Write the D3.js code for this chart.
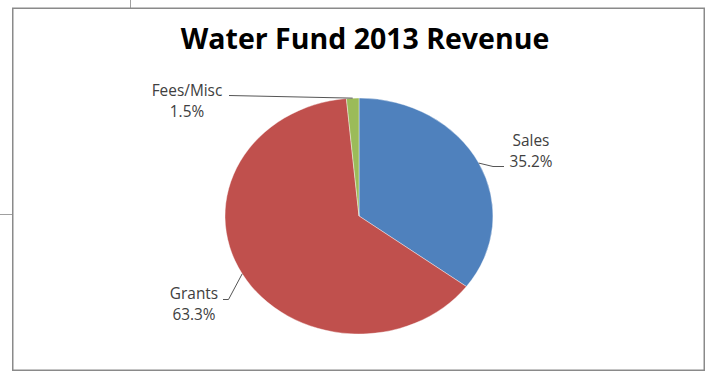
<!DOCTYPE html>
<html>
<head>
<meta charset="utf-8">
<script src="https://cdn.jsdelivr.net/npm/d3@7"></script>
<style>
  html, body { margin: 0; padding: 0; background: #fff; }
  svg { display: block; }
</style>
</head>
<body>
<svg id="chart" width="707" height="373"></svg>
<script>
// Revenue sources, share of total (%)
const categories = ["Sales", "Grants", "Fees/Misc"];
const shares = [35.2, 63.3, 1.5];
const colors = ["#4F81BD", "#C0504D", "#9BBB59"];
const title = "Water Fund 2013 Revenue";

const svg = d3.select("#chart");

// Outer chart frame and stray cell lines around it
svg.append("line").attr("x1", 130.5).attr("x2", 130.5).attr("y1", 0).attr("y2", 8)
  .attr("stroke", "#a0a0a0").attr("stroke-width", 1);
svg.append("line").attr("x1", 0).attr("x2", 12).attr("y1", 214.5).attr("y2", 214.5)
  .attr("stroke", "#a0a0a0").attr("stroke-width", 1);
svg.append("rect")
  .attr("x", 12.75).attr("y", 8.25).attr("width", 691.5).attr("height", 362)
  .attr("fill", "#fff").attr("stroke", "#8a8a8a").attr("stroke-width", 1.5);

// Title
svg.append("text")
  .attr("x", 365).attr("y", 48.5)
  .attr("text-anchor", "middle")
  .attr("font-family", "'Open Sans', 'DejaVu Sans', sans-serif")
  .attr("font-weight", 700)
  .attr("font-size", 28.5)
  .attr("fill", "#000")
  .text(title);

// Pie drawn as a slightly flattened ellipse
const cx = 359, cy = 216, rx = 134, ry = 118;
const pie = d3.pie().sort(null).value(d => d.value);
const arcs = pie(categories.map((c, i) => ({ name: c, value: shares[i], color: colors[i] })));
const arc = d3.arc().innerRadius(0).outerRadius(ry);

const g = svg.append("g")
  .attr("transform", `translate(${cx},${cy}) scale(${rx / ry},1)`);
g.selectAll("path")
  .data(arcs)
  .join("path")
  .attr("d", arc)
  .attr("fill", d => d.data.color)
  .attr("stroke", "#fff")
  .attr("stroke-width", 0.4)
  .attr("vector-effect", "non-scaling-stroke");

// Point on the ellipse rim at a slice's mid angle
function rimPoint(d) {
  const a = (d.startAngle + d.endAngle) / 2;
  return [cx + rx * Math.sin(a), cy - ry * Math.cos(a)];
}

// Label placement: text block centre, baseline of first line, leader elbow points
const labelLayout = {
  "Sales":     { x: 531, y: 146, leader: [[493, 166.5], [504, 166.5]] },
  "Grants":    { x: 194, y: 299, leader: [[228.5, 299.5], [223, 299.5]] },
  "Fees/Misc": { x: 187, y: 96,  leader: [[229, 95.5]] }
};

const fmt = d3.format(".1f");
const labelFont = "'Open Sans', 'DejaVu Sans', sans-serif";
const labelSize = 15.4, lineStep = 21;
const lineGen = d3.line();

arcs.forEach(d => {
  const lay = labelLayout[d.data.name];
  const pts = [rimPoint(d), ...lay.leader];
  svg.append("path")
    .attr("d", lineGen(pts))
    .attr("fill", "none")
    .attr("stroke", "#555")
    .attr("stroke-width", 1);

  [d.data.name, fmt(d.data.value) + "%"].forEach((s, i) => {
    svg.append("text")
      .attr("x", lay.x)
      .attr("y", lay.y + i * lineStep)
      .attr("text-anchor", "middle")
      .attr("font-family", labelFont)
      .attr("font-size", labelSize)
      .attr("fill", "#404040")
      .text(s);
  });
});
</script>
</body>
</html>
